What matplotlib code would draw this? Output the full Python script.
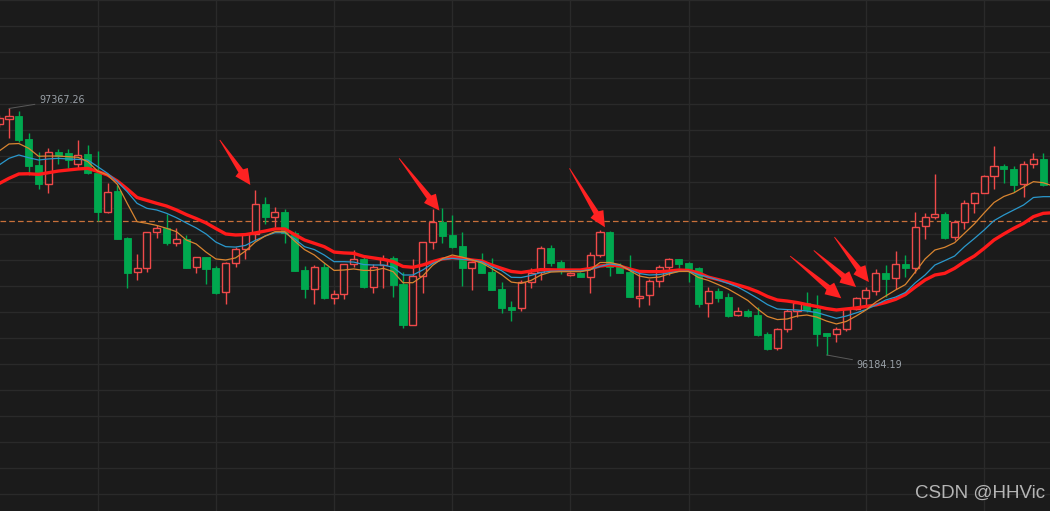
import numpy as np
import matplotlib
matplotlib.use("Agg")
import matplotlib.pyplot as plt
from matplotlib.patches import Polygon
from matplotlib.transforms import IdentityTransform

# ---------------- data (OHLC per candle) ----------------
opens = [97291, 97315, 97331, 97221, 97096, 97003, 97157, 97152, 97099, 97147,
         97059, 96872, 96971, 96744, 96581, 96600, 96773, 96792, 96724, 96741,
         96605, 96654, 96602, 96485, 96624, 96691, 96763, 96909, 96848, 96870,
         96768, 96592, 96499, 96608, 96456, 96475, 96619, 96645, 96512, 96616,
         96648, 96525, 96328, 96565, 96725, 96822, 96760, 96707, 96603, 96635,
         96581, 96499, 96414, 96411, 96536, 96584, 96696, 96630, 96568, 96576,
         96560, 96663, 96774, 96611, 96582, 96456, 96471, 96539, 96608, 96643,
         96627, 96600, 96432, 96491, 96461, 96375, 96395, 96376, 96285, 96216,
         96307, 96395, 96432, 96405, 96288, 96283, 96307, 96403, 96456, 96491,
         96576, 96552, 96619, 96600, 96802, 96845, 96859, 96749, 96821, 96912,
         96960, 97042, 97090, 97075, 97003, 97099, 97125, 96999]
closes = [97320, 97330, 97216, 97093, 97003, 97157, 97141, 97120, 97144, 97056,
          96872, 96968, 96741, 96579, 96600, 96773, 96792, 96723, 96739, 96603,
          96653, 96598, 96480, 96624, 96693, 96763, 96907, 96848, 96869, 96768,
          96589, 96499, 96605, 96456, 96475, 96619, 96643, 96510, 96605, 96645,
          96521, 96328, 96565, 96725, 96822, 96757, 96701, 96603, 96632, 96579,
          96497, 96411, 96401, 96534, 96579, 96696, 96627, 96597, 96576, 96560,
          96663, 96774, 96608, 96579, 96464, 96469, 96539, 96608, 96643, 96621,
          96597, 96429, 96491, 96459, 96371, 96394, 96371, 96280, 96213, 96307,
          96395, 96435, 96400, 96285, 96277, 96307, 96403, 96456, 96495, 96576,
          96550, 96619, 96600, 96800, 96845, 96859, 96746, 96821, 96912, 96960,
          97042, 97090, 97075, 97001, 97099, 97123, 96999, 96928]
highs = [97336, 97367.26, 97355, 97248, 97157, 97176, 97173, 97173, 97216, 97192,
         97163, 97008, 97000, 96752, 96667, 96776, 96808, 96859, 96792, 96759,
         96655, 96656, 96611, 96632, 96704, 96765, 96976, 96944, 96894, 96885,
         96779, 96611, 96616, 96624, 96496, 96621, 96688, 96653, 96619, 96664,
         96659, 96581, 96643, 96727, 96885, 96890, 96856, 96773, 96634, 96672,
         96651, 96536, 96443, 96544, 96600, 96707, 96712, 96640, 96581, 96584,
         96678, 96784, 96779, 96624, 96664, 96592, 96547, 96616, 96650, 96645,
         96632, 96605, 96512, 96507, 96480, 96413, 96403, 96413, 96296, 96312,
         96403, 96443, 96485, 96471, 96290, 96320, 96410, 96464, 96512, 96595,
         96616, 96683, 96664, 96872, 96864, 97053, 96872, 96832, 96928, 96968,
         97048, 97189, 97101, 97091, 97115, 97154, 97152, 97024]
lows = [97278, 97226, 97208, 97048, 96979, 96963, 97099, 97083, 97077, 97053,
        96827, 96867, 96739, 96504, 96543, 96581, 96747, 96712, 96707, 96600,
        96579, 96525, 96477, 96427, 96608, 96646, 96736, 96813, 96798, 96723,
        96586, 96459, 96427, 96453, 96429, 96451, 96608, 96507, 96483, 96504,
        96464, 96315, 96326, 96480, 96694, 96723, 96696, 96515, 96497, 96577,
        96495, 96384, 96346, 96395, 96504, 96544, 96611, 96573, 96563, 96557,
        96480, 96656, 96563, 96576, 96462, 96413, 96424, 96512, 96567, 96603,
        96536, 96413, 96368, 96440, 96365, 96371, 96368, 96275, 96208, 96210,
        96296, 96365, 96390, 96229, 96184.19, 96248, 96301, 96400, 96419, 96470,
        96464, 96502, 96560, 96576, 96742, 96835, 96742, 96736, 96787, 96867,
        96966, 96982, 97008, 96968, 96944, 97080, 96997, 96914]

# moving averages as shown on the chart
ma_fast = [97163, 97197, 97199, 97176, 97138, 97139, 97139, 97136, 97133, 97112,
           97067, 97048, 97003, 96912, 96824, 96816, 96806, 96792, 96776, 96736,
           96717, 96678, 96645, 96640, 96650, 96683, 96726, 96755, 96776, 96776,
           96731, 96690, 96664, 96626, 96590, 96592, 96597, 96590, 96590, 96600,
           96584, 96531, 96531, 96563, 96614, 96647, 96664, 96654, 96640, 96626,
           96599, 96570, 96534, 96528, 96542, 96568, 96582, 96584, 96584, 96584,
           96592, 96628, 96628, 96618, 96590, 96563, 96554, 96558, 96573, 96585,
           96585, 96556, 96542, 96522, 96501, 96474, 96446, 96405, 96369, 96354,
           96357, 96371, 96376, 96366, 96347, 96333, 96345, 96371, 96400, 96438,
           96467, 96496, 96522, 96582, 96645, 96688, 96701, 96723, 96768, 96813,
           96866, 96916, 96945, 96962, 96990, 97016, 97011, 96995]
ma_mid = [97096, 97128, 97144, 97131, 97120, 97125, 97128, 97125, 97123, 97120,
          97088, 97056, 97016, 96968, 96912, 96888, 96880, 96864, 96843, 96818,
          96794, 96765, 96726, 96704, 96702, 96710, 96734, 96755, 96771, 96771,
          96741, 96704, 96690, 96664, 96632, 96632, 96630, 96618, 96616, 96616,
          96605, 96568, 96568, 96592, 96623, 96643, 96648, 96643, 96640, 96632,
          96608, 96589, 96557, 96556, 96566, 96580, 96586, 96587, 96587, 96587,
          96594, 96609, 96621, 96614, 96594, 96575, 96568, 96570, 96578, 96585,
          96586, 96570, 96558, 96544, 96528, 96510, 96484, 96456, 96426, 96405,
          96402, 96400, 96395, 96388, 96374, 96360, 96371, 96386, 96402, 96424,
          96448, 96462, 96484, 96530, 96568, 96616, 96637, 96659, 96704, 96743,
          96784, 96829, 96856, 96880, 96904, 96940, 96944, 96944]
ma_slow = [97007, 97032, 97053, 97054, 97051, 97059, 97067, 97072, 97077, 97080,
           97065, 97048, 97019, 96981, 96940, 96926, 96912, 96899, 96880, 96858,
           96839, 96818, 96791, 96765, 96760, 96762, 96770, 96779, 96789, 96789,
           96762, 96736, 96720, 96704, 96678, 96674, 96672, 96657, 96650, 96643,
           96632, 96609, 96605, 96616, 96632, 96645, 96651, 96648, 96640, 96635,
           96616, 96600, 96585, 96580, 96587, 96594, 96593, 96592, 96592, 96592,
           96599, 96611, 96616, 96611, 96597, 96585, 96584, 96584, 96587, 96592,
           96590, 96578, 96558, 96546, 96534, 96520, 96506, 96488, 96465, 96448,
           96443, 96436, 96426, 96417, 96407, 96400, 96405, 96410, 96417, 96424,
           96436, 96451, 96474, 96510, 96544, 96568, 96576, 96600, 96632, 96659,
           96696, 96736, 96765, 96792, 96816, 96848, 96864, 96867]

ref_price = 96826          # dashed reference line
# arrow annotations: (candle position, price) of tail and tip
arrow_tails = [(22.4, 97216), (40.6, 97128), (57.9, 97080), (80.3, 96659), (82.7, 96686), (84.8, 96750)]
arrow_tips = [(25.5, 97000), (44.7, 96877), (61.5, 96797), (85.5, 96456), (87.0, 96510), (88.3, 96534)]

# ---------------- styling ----------------
BG = "#1b1b1b"
GRID = "#2a2a2a"
UP = "#f04a4a"
DOWN = "#00a84f"
C_FAST = "#d98530"
C_MID = "#2a98cc"
C_SLOW = "#ff1a1a"

fig = plt.figure(figsize=(10.5, 5.11), dpi=100)
fig.patch.set_facecolor(BG)
ax = fig.add_axes([0, 0, 1, 1])
ax.set_facecolor(BG)
ax.set_xlim(0.086, 106.685)
ax.set_ylim(95435.2, 97888)
for s in ax.spines.values():
    s.set_visible(False)
ax.set_xticks([])
ax.set_yticks([])

# grid
for gy in np.arange(97888, 95400, -124.8):
    ax.axhline(gy, color=GRID, lw=1.0, zorder=0)
for gx in [10, 22, 34, 46, 58, 70, 88, 100]:
    ax.axvline(gx, color=GRID, lw=1.0, zorder=0)

ax.axhline(ref_price, color="#c8703a", lw=0.9, ls=(0, (4.5, 2.5)), zorder=1)

x = np.arange(len(opens))
o = np.array(opens, float); c = np.array(closes, float)
h = np.array(highs, float); l = np.array(lows, float)
up = c >= o
cols = np.where(up, UP, DOWN)

ax.vlines(x, l, h, colors=cols, lw=1.0, zorder=2)
bottoms = np.minimum(o, c)
heights = np.maximum(np.abs(c - o), 1.5)
ax.bar(x[up], heights[up], bottom=bottoms[up], width=0.72, facecolor=BG,
       edgecolor=UP, linewidth=1.0, zorder=3)
ax.bar(x[~up], heights[~up], bottom=bottoms[~up], width=0.72, facecolor=DOWN,
       edgecolor=DOWN, linewidth=0.6, zorder=3)

ax.plot(x, ma_slow, color=C_SLOW, lw=2.4, zorder=4, solid_capstyle="round")
ax.plot(x, ma_mid, color=C_MID, lw=0.9, zorder=5)
ax.plot(x, ma_fast, color=C_FAST, lw=0.9, zorder=6)

# max / min labels
imax = int(np.argmax(h)); imin = int(np.argmin(l))
ax.annotate(f"{h[imax]:.2f}", xy=(imax, h[imax]), xytext=(4.05, 97408),
            ha="left", va="center", color="#9aa1a8", fontsize=6.9,
            family="DejaVu Sans",
            arrowprops=dict(arrowstyle="-", color="#5a5a5a", lw=0.7, shrinkA=1, shrinkB=0),
            zorder=7)
ax.annotate(f"{l[imin]:.2f}", xy=(imin, l[imin]), xytext=(87.05, 96138),
            ha="left", va="center", color="#9aa1a8", fontsize=6.9,
            family="DejaVu Sans",
            arrowprops=dict(arrowstyle="-", color="#5a5a5a", lw=0.7, shrinkA=1, shrinkB=0),
            zorder=7)

# red arrows (drawn in display space)
fig.canvas.draw()
T = ax.transData
for tail, tip in zip(arrow_tails, arrow_tips):
    p0 = np.array(T.transform(tail)); p1 = np.array(T.transform(tip))
    d = p1 - p0; L = np.hypot(*d); d = d / L
    n = np.array([-d[1], d[0]])
    hl = 17.0; hw = 7.5; sw = 2.8
    base = p1 - d * hl
    pts = [p0 + n * 0.4, base + n * sw, base + d * 1.5 + n * hw, p1,
           base + d * 1.5 - n * hw, base - n * sw, p0 - n * 0.4]
    ax.add_patch(Polygon(pts, closed=True, transform=IdentityTransform(),
                         facecolor="#ff2222", edgecolor="none", zorder=8))

fig.text(1045 / 1050, 1 - 493 / 511, "CSDN @HHVic", ha="right", va="center",
         fontsize=13.5, color="#b5b5b5", family="Liberation Sans")

fig.savefig("out.png", dpi=100, facecolor=BG)
